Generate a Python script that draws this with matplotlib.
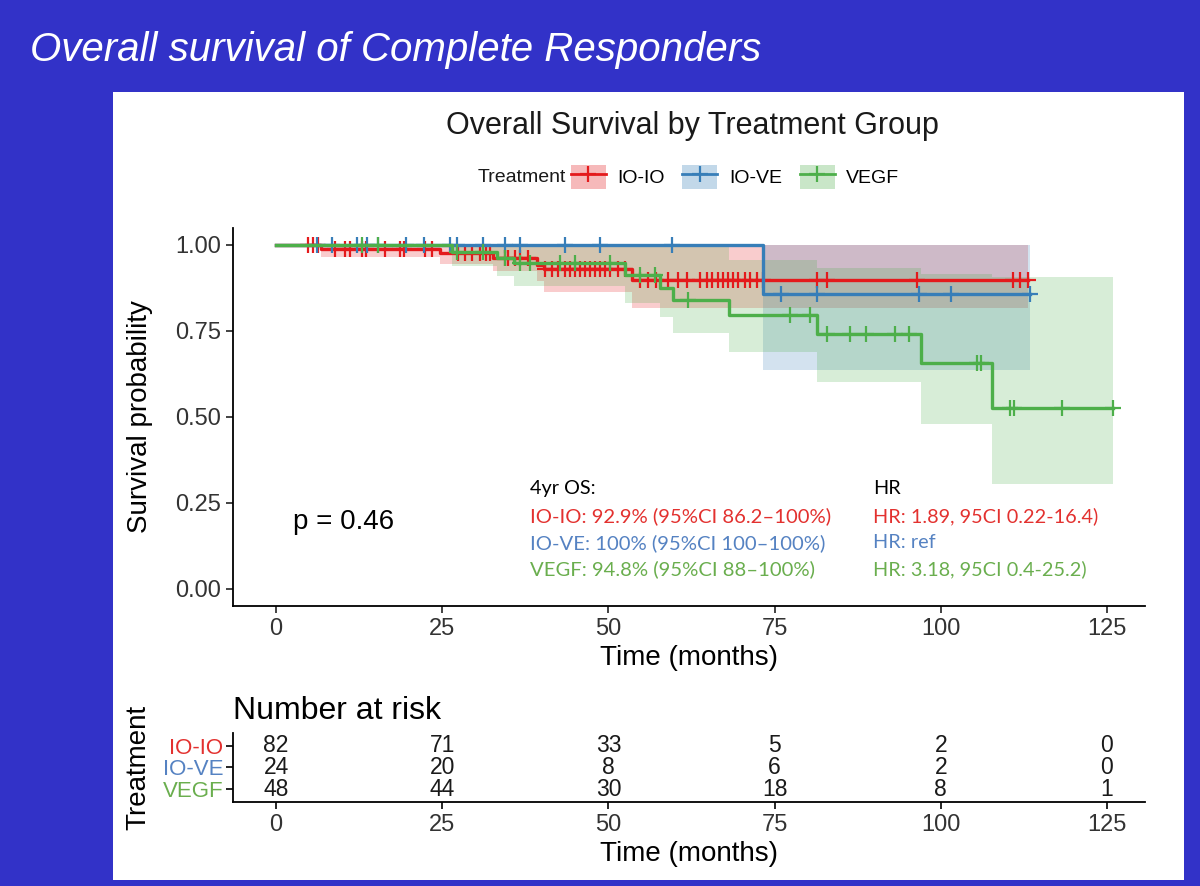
import numpy as np
import matplotlib
matplotlib.use('Agg')
import matplotlib.pyplot as plt
from matplotlib.patches import Rectangle, Patch
from matplotlib.lines import Line2D

plt.rcParams['font.family'] = ['Liberation Sans', 'DejaVu Sans']

groups = ['IO-IO', 'IO-VE', 'VEGF']
colors = ['#E41A1C', '#377EB8', '#4DAF4A']
text_colors = ['#E3312F', '#5582C2', '#6AAE4E']

# Kaplan-Meier steps (months, survival)
ioio_t = [0, 6.8, 24.7, 32.6, 39.3, 40.3, 53.5, 113.1]
ioio_s = [1.0, 0.988, 0.975, 0.963, 0.941, 0.929, 0.898, 0.898]
ioio_lo = [1.0, 0.965, 0.945, 0.925, 0.895, 0.862, 0.817, 0.817]
ioio_hi = [1.0, 1.0, 1.0, 1.0, 1.0, 1.0, 1.0, 1.0]
ioio_cens = [4.8, 5.5, 6.3, 8.9, 10.4, 11.1, 12.9, 13.5, 16.4, 18.6, 19.2, 22.4, 23.5,
             27.4, 28.4, 29.5, 30.7, 31.6, 32.2, 34.4, 34.9, 35.9, 36.7, 37.9,
             40.5, 41.5, 42.4, 43.5, 44.2, 45.0, 45.7, 46.5, 47.2, 48.0, 48.7, 49.5,
             50.2, 51.4, 52.5, 54.7, 55.9, 57.1, 58.9, 60.5, 61.8, 63.8, 64.8, 65.6,
             66.5, 67.2, 68.0, 68.7, 69.5, 70.5, 71.3, 72.3, 73.2, 81.4, 82.9, 96.4,
             110.8, 111.9, 113.1]

iove_t = [0, 73.2, 113.4]
iove_s = [1.0, 0.857, 0.857]
iove_lo = [1.0, 0.637, 0.637]
iove_hi = [1.0, 1.0, 1.0]
iove_cens = [6.2, 8.4, 12.2, 13.7, 15.3, 19.5, 22.3, 26.2, 27.2, 31.1, 34.4, 36.7,
             43.5, 48.7, 59.5, 75.9, 81.4, 96.8, 101.5, 113.4]

vegf_t = [0, 26.5, 33.3, 35.8, 52.5, 57.7, 59.7, 68.2, 81.4, 97.0, 107.7, 125.9]
vegf_s = [1.0, 0.979, 0.963, 0.948, 0.912, 0.876, 0.840, 0.795, 0.740, 0.657, 0.526, 0.526]
vegf_lo = [1.0, 0.94, 0.91, 0.88, 0.83, 0.79, 0.745, 0.69, 0.60, 0.48, 0.305, 0.305]
vegf_hi = [1.0, 1.0, 1.0, 1.0, 1.0, 1.0, 1.0, 0.956, 0.933, 0.915, 0.907, 0.907]
vegf_cens = [12.9, 15.3, 27.2, 31.1, 34.4, 36.7, 38.2, 42.7, 45.0, 50.2, 54.7, 57.0,
             62.0, 77.3, 80.3, 82.9, 86.3, 88.7, 93.1, 95.3, 105.4, 106.0,
             110.4, 111.0, 118.2, 125.9]

# number at risk
risk_times = [0, 25, 50, 75, 100, 125]
risk_ioio = [82, 71, 33, 5, 2, 0]
risk_iove = [24, 20, 8, 6, 2, 0]
risk_vegf = [48, 44, 30, 18, 8, 1]

os_lines = ['IO-IO: 92.9% (95%CI 86.2\u2013100%)',
            'IO-VE: 100% (95%CI 100\u2013100%)',
            'VEGF: 94.8% (95%CI 88\u2013100%)']
hr_lines = ['HR: 1.89, 95CI 0.22-16.4)', 'HR: ref', 'HR: 3.18, 95CI 0.4-25.2)']

curves = [(ioio_t, ioio_s, ioio_lo, ioio_hi, ioio_cens),
          (iove_t, iove_s, iove_lo, iove_hi, iove_cens),
          (vegf_t, vegf_s, vegf_lo, vegf_hi, vegf_cens)]
risks = [risk_ioio, risk_iove, risk_vegf]

fig = plt.figure(figsize=(12, 8.86), dpi=100)
fig.patch.set_facecolor('#3232c8')
fig.add_artist(Rectangle((0.094, 0.007), 0.893, 0.889, transform=fig.transFigure,
                         facecolor='white', edgecolor='none', zorder=0))

fig.text(0.025, 1 - 61 / 886, 'Overall survival of Complete Responders', color='white',
         fontsize=29, style='italic', va='baseline', ha='left')
fig.text(692 / 1200, 1 - 134 / 886, 'Overall Survival by Treatment Group',
         fontsize=22, ha='center', va='baseline', color='#1a1a1a')

xlims = (-6.5, 130.7)

# main KM plot
ax = fig.add_axes([0.194, 0.316, 0.760, 0.427])
for (t, s, lo, hi, cens), c in zip(curves, colors):
    ax.fill_between(t, lo, hi, step='post', color=c, alpha=0.22, lw=0)
for (t, s, lo, hi, cens), c in zip(curves, colors):
    ax.step(t, s, where='post', color=c, lw=2.4)
    t_arr = np.array(t)
    idx = np.searchsorted(t_arr, cens, side='right') - 1
    ax.plot(cens, np.array(s)[idx], ls='none', marker='+', ms=11, mew=1.6, color=c)

ax.set_xlim(*xlims)
ax.set_ylim(-0.05, 1.05)
ax.set_xticks(risk_times)
ax.set_yticks([0, 0.25, 0.5, 0.75, 1.0])
ax.set_yticklabels(['0.00', '0.25', '0.50', '0.75', '1.00'])
for sp in ['top', 'right']:
    ax.spines[sp].set_visible(False)
for sp in ['left', 'bottom']:
    ax.spines[sp].set_linewidth(1.3)
ax.tick_params(labelsize=17, length=5, width=1.2, colors='#222222', labelcolor='#333333')
ax.set_xlabel('Time (months)', fontsize=20, labelpad=4)
ax.set_ylabel('Survival probability', fontsize=20, labelpad=16)

ax.text(2.5, 0.195, 'p = 0.46', fontsize=20, va='center', ha='left')

ax.text(38.2, 0.291, '4yr OS:', fontsize=14.3, family='Lato', va='center', color='black')
ax.text(89.8, 0.291, 'HR', fontsize=14.3, family='Lato', va='center', color='black')
for i in range(3):
    ax.text(38.2, 0.212 - 0.078 * i, os_lines[i], fontsize=14.6, family='Lato',
            va='center', color=text_colors[i])
    ax.text(89.8, 0.212 - 0.078 * i, hr_lines[i], fontsize=14.3, family='Lato',
            va='center', color=text_colors[i])

# legend
handles = [(Patch(facecolor=c, alpha=0.3, edgecolor='none'),
            Line2D([], [], color=c, lw=2, marker='+', ms=11, mew=1.6)) for c in colors]
fig.legend(handles, groups, ncol=3, loc='center', bbox_to_anchor=(735 / 1200, 1 - 177 / 886),
           frameon=False, fontsize=14, handlelength=1.8, handleheight=1.6,
           columnspacing=0.9, handletextpad=0.6)
fig.text(478 / 1200, 1 - 177 / 886, 'Treatment', fontsize=14, va='center', ha='left',
         color='#1a1a1a')

# risk table
rax = fig.add_axes([0.194, 0.0948, 0.760, 0.0779])
rax.set_xlim(*xlims)
rax.set_ylim(0.4, 3.6)
for i, r in enumerate(risks):
    for x, n in zip(risk_times, r):
        rax.text(x, 3 - i, str(n), ha='center', va='center', fontsize=16.5, color='#1a1a1a')
rax.set_yticks([3, 2, 1])
rax.set_yticklabels(groups)
for lbl, c in zip(rax.get_yticklabels(), text_colors):
    lbl.set_color(c)
rax.set_xticks(risk_times)
for sp in ['top', 'right']:
    rax.spines[sp].set_visible(False)
for sp in ['left', 'bottom']:
    rax.spines[sp].set_linewidth(1.3)
rax.tick_params(axis='x', labelsize=17, length=5, width=1.2, labelcolor='#333333')
rax.tick_params(axis='y', labelsize=16, length=5, width=1.2, pad=2)
rax.set_xlabel('Time (months)', fontsize=20, labelpad=4)
rax.set_ylabel('Treatment', fontsize=20, labelpad=8)
rax.set_title('Number at risk', loc='left', fontsize=23, pad=10)

fig.savefig('out.png', dpi=100, facecolor=fig.get_facecolor())
